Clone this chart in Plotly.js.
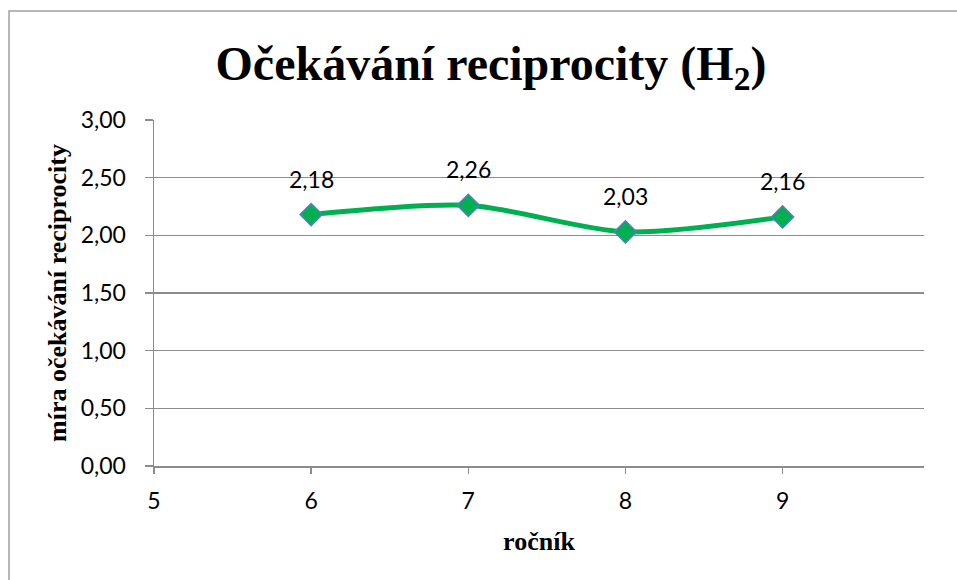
<!DOCTYPE html>
<html>
<head>
<meta charset="utf-8">
<script src="https://cdn.plot.ly/plotly-3.0.1.min.js"></script>
<style>
  html, body { margin: 0; padding: 0; background: #fff; }
  #chart { width: 957px; height: 580px; }
</style>
</head>
<body>
<div id="chart"></div>
<script>
// data
var rocnik = [6, 7, 8, 9];
var mira = [2.18, 2.26, 2.03, 2.16];
var labels = ["2,18", "2,26", "2,03", "2,16"];
var yTicks = [0, 0.5, 1, 1.5, 2, 2.5, 3];
var yTickText = ["0,00", "0,50", "1,00", "1,50", "2,00", "2,50", "3,00"];
var xTicks = [5, 6, 7, 8, 9];

var grey = "#8c8c8c";
var sansFont = {family: "Lato, 'Open Sans', sans-serif", size: 23, color: "#000"};
var serifBold = {family: "'Liberation Serif', 'Times New Roman', serif", size: 26, color: "#000", weight: "bold"};

var data = [{
  x: rocnik,
  y: mira,
  type: "scatter",
  mode: "lines+markers",
  line: {color: "#00b050", width: 5, shape: "spline", smoothing: 0.8},
  marker: {symbol: "diamond", size: 17, color: "#00b050", line: {color: "#4f81bd", width: 1.5}},
  hoverinfo: "none"
}];

// data labels above each point
var annotations = rocnik.map(function (x, i) {
  return {
    x: x, y: mira[i], xref: "x", yref: "y",
    text: labels[i], showarrow: false,
    yanchor: "middle", yshift: 36,
    font: sansFont
  };
});

var layout = {
  width: 957,
  height: 580,
  margin: {l: 154, r: 33, t: 120, b: 114},
  paper_bgcolor: "#fff",
  plot_bgcolor: "#fff",
  showlegend: false,
  title: {
    text: "Očekávání reciprocity (H<sub>2</sub>)",
    font: {family: "'Liberation Serif', 'Times New Roman', serif", size: 48, color: "#000", weight: "bold"},
    xref: "container", yref: "container",
    x: 491 / 957, xanchor: "center",
    y: 1 - 63 / 580, yanchor: "middle"
  },
  xaxis: {
    range: [5, 9.9],
    tickvals: xTicks,
    ticks: "outside", ticklen: 6, tickwidth: 1.5, tickcolor: grey,
    ticklabelstandoff: 8,
    showline: true, linecolor: grey, linewidth: 1.5,
    showgrid: false, zeroline: false,
    tickfont: sansFont,
    title: {text: "ročník", font: serifBold, standoff: 18}
  },
  yaxis: {
    range: [0, 3],
    tickvals: yTicks,
    ticktext: yTickText,
    ticks: "outside", ticklen: 8, tickwidth: 1.5, tickcolor: grey,
    ticklabelstandoff: 14,
    showline: true, linecolor: grey, linewidth: 1.5,
    showgrid: true, gridcolor: grey, gridwidth: 1.5,
    zeroline: false,
    tickfont: sansFont,
    title: {text: "míra očekávání reciprocity", font: serifBold, standoff: 6}
  },
  annotations: annotations,
  shapes: [{
    type: "rect", xref: "paper", yref: "paper",
    x0: (9 - 154) / 770, x1: 1.2,
    y0: -0.5, y1: (466 - 11) / 346,
    line: {color: "#a0a0a0", width: 1.5},
    layer: "below"
  }]
};

Plotly.newPlot("chart", data, layout, {displayModeBar: false, staticPlot: true});
</script>
</body>
</html>
